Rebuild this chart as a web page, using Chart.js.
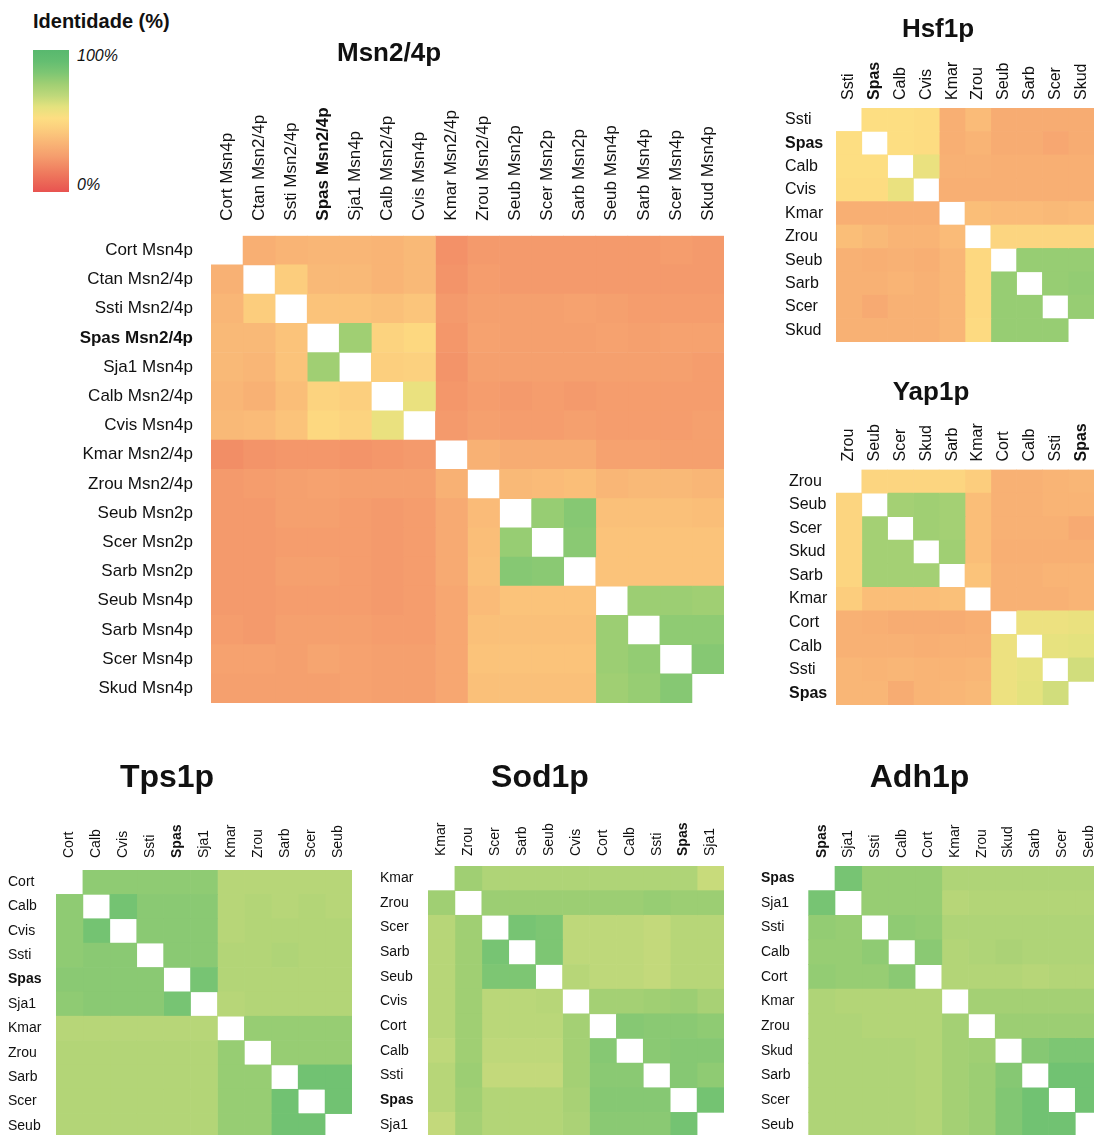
<!DOCTYPE html>
<html>
<head>
<meta charset="utf-8">
<title>Identidade (%)</title>
<script src="https://cdn.jsdelivr.net/npm/chart.js@4.4.1/dist/chart.umd.min.js"></script>
<style>
  body { margin: 0; width: 1094px; height: 1135px; overflow: hidden; position: relative; background: #fff;
         font-family: 'Liberation Sans', Arial, sans-serif; color: #111; }
  canvas { position: absolute; }
  .leg { position: absolute; white-space: nowrap; }
</style>
</head>
<body>
<div class="leg" style="left:33px; top:10px; font-size:20px; font-weight:bold;">Identidade (%)</div>
<div class="leg" id="legendBar" style="left:33px; top:50px; width:36px; height:142px;"></div>
<div class="leg" style="left:77px; top:47px; font-size:16px; font-style:italic;">100%</div>
<div class="leg" style="left:77px; top:176px; font-size:16px; font-style:italic;">0%</div>

<canvas id="msn" width="670" height="675" style="left:54px; top:28px;"></canvas>
<canvas id="hsf" width="312" height="334" style="left:782px; top:8px;"></canvas>
<canvas id="yap" width="326" height="334" style="left:768px; top:371px;"></canvas>
<canvas id="tps" width="370" height="385" style="left:-18px; top:753px;"></canvas>
<canvas id="sod" width="368" height="384" style="left:356px; top:753px;"></canvas>
<canvas id="adh" width="365" height="384" style="left:737px; top:753px;"></canvas>

<script>
// ---- data: % identity between proteins (null = diagonal, left blank) ----
const msnLabels = ['Cort Msn4p', 'Ctan Msn2/4p', 'Ssti Msn2/4p', 'Spas Msn2/4p', 'Sja1 Msn4p', 'Calb Msn2/4p',
  'Cvis Msn4p', 'Kmar Msn2/4p', 'Zrou Msn2/4p', 'Seub Msn2p', 'Scer Msn2p', 'Sarb Msn2p',
  'Seub Msn4p', 'Sarb Msn4p', 'Scer Msn4p', 'Skud Msn4p'];
const msnIdentity = [
  [null, 32, 34, 35, 35, 34, 36, 21, 24, 24, 24, 24, 24, 24, 25, 24],
  [33, null, 44, 36, 36, 34, 36, 22, 25, 24, 24, 24, 24, 24, 24, 24],
  [35, 44, null, 40, 40, 39, 41, 24, 26, 26, 26, 27, 26, 25, 25, 25],
  [36, 36, 40, null, 76, 47, 49, 23, 27, 26, 26, 26, 27, 26, 27, 27],
  [36, 35, 40, 76, null, 45, 46, 22, 26, 26, 26, 26, 26, 26, 26, 25],
  [35, 33, 38, 47, 45, null, 58, 23, 25, 24, 25, 24, 25, 25, 25, 25],
  [36, 37, 40, 49, 47, 58, null, 24, 26, 25, 25, 26, 25, 25, 25, 26],
  [20, 22, 23, 23, 22, 23, 24, null, 33, 31, 31, 31, 27, 27, 26, 26],
  [24, 25, 26, 27, 26, 26, 26, 33, null, 36, 37, 38, 35, 36, 36, 35],
  [24, 24, 26, 26, 25, 24, 25, 30, 37, null, 78, 82, 39, 39, 39, 38],
  [24, 24, 25, 25, 25, 24, 25, 30, 38, 78, null, 81, 40, 40, 40, 40],
  [24, 24, 26, 26, 25, 24, 25, 30, 39, 82, 81, null, 40, 40, 40, 40],
  [24, 24, 25, 25, 25, 24, 25, 29, 37, 40, 40, 40, null, 77, 77, 76],
  [25, 24, 26, 26, 26, 25, 25, 29, 39, 39, 39, 39, 77, null, 80, 80],
  [27, 27, 26, 28, 27, 26, 26, 29, 40, 40, 40, 40, 77, 79, null, 82],
  [26, 26, 26, 26, 27, 26, 26, 29, 39, 39, 39, 39, 76, 78, 82, null]
];

const hsfLabels = ['Ssti', 'Spas', 'Calb', 'Cvis', 'Kmar', 'Zrou', 'Seub', 'Sarb', 'Scer', 'Skud'];
const hsfIdentity = [
  [null, 52, 52, 51, 32, 37, 31, 31, 31, 31],
  [52, null, 52, 51, 32, 34, 31, 31, 29, 31],
  [52, 52, null, 58, 33, 33, 32, 32, 32, 32],
  [51, 51, 58, null, 32, 32, 32, 32, 32, 32],
  [32, 32, 32, 32, null, 38, 37, 37, 36, 37],
  [38, 36, 34, 34, 37, null, 48, 48, 48, 48],
  [33, 32, 33, 32, 35, 49, null, 78, 78, 78],
  [33, 33, 34, 33, 35, 49, 78, null, 78, 79],
  [33, 30, 33, 33, 35, 49, 78, 78, null, 78],
  [33, 33, 33, 33, 35, 50, 78, 78, 78, null]
];

const yapLabels = ['Zrou', 'Seub', 'Scer', 'Skud', 'Sarb', 'Kmar', 'Cort', 'Calb', 'Ssti', 'Spas'];
const yapIdentity = [
  [null, 48, 48, 48, 48, 44, 33, 33, 34, 35],
  [48, null, 75, 76, 75, 38, 33, 33, 34, 34],
  [48, 75, null, 76, 75, 38, 33, 33, 33, 30],
  [48, 75, 75, null, 76, 38, 32, 32, 32, 32],
  [48, 75, 75, 75, null, 40, 33, 33, 34, 34],
  [44, 38, 38, 38, 39, null, 33, 33, 33, 34],
  [33, 32, 31, 31, 31, 32, null, 57, 57, 58],
  [33, 33, 33, 32, 33, 33, 57, null, 59, 60],
  [35, 34, 35, 34, 34, 35, 57, 59, null, 64],
  [35, 35, 31, 34, 35, 36, 57, 60, 64, null]
];

const tpsLabels = ['Cort', 'Calb', 'Cvis', 'Ssti', 'Spas', 'Sja1', 'Kmar', 'Zrou', 'Sarb', 'Scer', 'Seub'];
const tpsIdentity = [
  [null, 80, 80, 80, 80, 80, 70, 70, 70, 70, 70],
  [80, null, 87, 81, 81, 81, 70, 71, 70, 71, 70],
  [80, 87, null, 81, 81, 81, 70, 71, 71, 71, 71],
  [80, 81, 81, null, 81, 81, 71, 71, 72, 71, 71],
  [81, 81, 81, 81, null, 86, 71, 71, 71, 71, 71],
  [80, 81, 81, 81, 86, null, 70, 71, 71, 71, 71],
  [70, 70, 70, 70, 70, 70, null, 78, 78, 78, 78],
  [71, 71, 71, 71, 71, 71, 78, null, 78, 78, 78],
  [71, 71, 71, 71, 71, 71, 78, 78, null, 88, 88],
  [71, 71, 71, 71, 71, 71, 78, 78, 88, null, 88],
  [71, 71, 71, 71, 71, 71, 78, 78, 88, 88, null]
];

const sodLabels = ['Kmar', 'Zrou', 'Scer', 'Sarb', 'Seub', 'Cvis', 'Cort', 'Calb', 'Ssti', 'Spas', 'Sja1'];
const sodIdentity = [
  [null, 76, 72, 72, 72, 72, 72, 72, 72, 72, 66],
  [76, null, 77, 77, 77, 77, 77, 77, 78, 77, 77],
  [70, 76, null, 86, 84, 68, 68, 68, 67, 70, 70],
  [70, 76, 86, null, 84, 68, 68, 68, 67, 70, 70],
  [70, 76, 84, 84, null, 70, 68, 68, 67, 70, 70],
  [70, 76, 69, 69, 70, null, 75, 75, 76, 77, 74],
  [70, 76, 69, 69, 69, 75, null, 82, 81, 81, 80],
  [68, 76, 68, 68, 68, 75, 82, null, 81, 82, 82],
  [70, 77, 67, 67, 67, 75, 81, 81, null, 82, 80],
  [70, 76, 71, 71, 71, 74, 82, 82, 82, null, 87],
  [67, 75, 71, 71, 71, 73, 81, 81, 81, 87, null]
];

const adhLabels = ['Spas', 'Sja1', 'Ssti', 'Calb', 'Cort', 'Kmar', 'Zrou', 'Skud', 'Sarb', 'Scer', 'Seub'];
const adhIdentity = [
  [null, 86, 78, 78, 78, 72, 72, 72, 72, 72, 72],
  [86, null, 78, 78, 78, 70, 71, 71, 71, 71, 71],
  [79, 78, null, 80, 79, 72, 72, 72, 72, 72, 72],
  [78, 78, 80, null, 81, 71, 72, 73, 72, 72, 72],
  [79, 78, 78, 81, null, 71, 71, 71, 70, 71, 71],
  [72, 71, 71, 71, 71, null, 75, 75, 75, 75, 75],
  [72, 72, 71, 71, 71, 75, null, 77, 77, 77, 77],
  [72, 72, 72, 72, 71, 75, 76, null, 82, 84, 84],
  [72, 72, 72, 72, 71, 75, 77, 82, null, 88, 88],
  [72, 72, 72, 72, 71, 75, 77, 83, 88, null, 88],
  [72, 72, 72, 72, 71, 75, 77, 83, 88, 88, null]
];

const boldLabels = ['Spas', 'Spas Msn2/4p'];

// ---- colour scale (0% red -> 50% yellow -> 100% green) ----
const colorStops = [
  [0, [232, 83, 80]], [12, [238, 118, 92]], [25, [245, 157, 109]], [35, [249, 182, 118]],
  [45, [252, 207, 126]], [52, [253, 222, 130]], [60, [228, 226, 126]], [68, [190, 216, 122]],
  [76, [160, 207, 115]], [84, [125, 198, 115]], [92, [100, 190, 113]], [100, [88, 184, 110]]
];

function cellColor(v) {
  if (v === null || v === undefined) return 'rgba(255,255,255,0)';
  for (let k = 1; k < colorStops.length; k++) {
    const [v1, c1] = colorStops[k];
    if (v <= v1) {
      const [v0, c0] = colorStops[k - 1];
      const t = (v - v0) / (v1 - v0);
      const c = c0.map((a, i) => Math.round(a + (c1[i] - a) * t));
      return `rgb(${c.join(',')})`;
    }
  }
  return `rgb(${colorStops[colorStops.length - 1][1].join(',')})`;
}

document.getElementById('legendBar').style.background = 'linear-gradient(to top, ' +
  colorStops.map(([v, c]) => `rgb(${c.join(',')}) ${v}%`).join(', ') + ')';

const FONT = "'Liberation Sans', Arial, sans-serif";

const panels = [
  { id: 'msn', title: 'Msn2/4p', labels: msnLabels, values: msnIdentity, titleSize: 26, titlePad: 10,
    colAxis: 166.5, rowAxis: 157, spacer: 0, fontSize: 17, align: 'near', rowGap: 18, colGap: 15 },
  { id: 'hsf', title: 'Hsf1p', labels: hsfLabels, values: hsfIdentity, titleSize: 26, titlePad: 6,
    colAxis: 62.8, rowAxis: 51, spacer: 3, fontSize: 16, align: 'far', rowGap: 0, colGap: 8 },
  { id: 'yap', title: 'Yap1p', labels: yapLabels, values: yapIdentity, titleSize: 26, titlePad: 6,
    colAxis: 61.3, rowAxis: 47, spacer: 21, fontSize: 16, align: 'far', rowGap: 0, colGap: 8 },
  { id: 'tps', title: 'Tps1p', labels: tpsLabels, values: tpsIdentity, titleSize: 32, titlePad: 6,
    colAxis: 72.6, rowAxis: 48, spacer: 26, fontSize: 14, align: 'far', rowGap: 0, colGap: 12 },
  { id: 'sod', title: 'Sod1p', labels: sodLabels, values: sodIdentity, titleSize: 32, titlePad: 6,
    colAxis: 68.6, rowAxis: 48, spacer: 24, fontSize: 14, align: 'far', rowGap: 0, colGap: 10 },
  { id: 'adh', title: 'Adh1p', labels: adhLabels, values: adhIdentity, titleSize: 32, titlePad: 6,
    colAxis: 68.6, rowAxis: 47.3, spacer: 24, fontSize: 14, align: 'far', rowGap: 0, colGap: 8 }
];

function labelFont(p, label) {
  return { family: FONT, size: p.fontSize, weight: boldLabels.includes(label) ? 'bold' : 'normal' };
}

function drawHeatmap(p) {
  const n = p.labels.length;
  // one stacked dataset per column; each row gets a cell of width 1 coloured by its identity
  const datasets = p.labels.map((col, j) => ({
    label: col,
    data: p.labels.map((row, i) => ({ x: 1, y: row, identity: p.values[i][j] })),
    backgroundColor: ctx => cellColor(ctx.raw ? ctx.raw.identity : null),
    borderWidth: 0,
    barPercentage: 1,
    categoryPercentage: 1,
    xAxisID: 'x',
    yAxisID: 'y'
  }));

  new Chart(document.getElementById(p.id), {
    type: 'bar',
    data: { labels: p.labels, datasets },
    options: {
      indexAxis: 'y',
      responsive: false,
      animation: false,
      events: [],
      layout: { padding: 0 },
      plugins: {
        legend: { display: false },
        tooltip: { enabled: false },
        title: {
          display: true,
          text: p.title,
          color: '#111',
          font: { family: FONT, size: p.titleSize, weight: 'bold' },
          padding: { top: p.titlePad, bottom: 0 }
        }
      },
      scales: {
        x: {
          type: 'linear',
          position: 'top',
          stacked: true,
          min: 0,
          max: n,
          grid: { display: false, drawTicks: false },
          border: { display: false },
          afterBuildTicks: axis => { axis.ticks = p.labels.map((_, i) => ({ value: i + 0.5 })); },
          afterFit: axis => { axis.height = p.colAxis; axis.paddingLeft = 0; axis.paddingRight = 0; },
          ticks: {
            autoSkip: false,
            minRotation: 90,
            maxRotation: 90,
            padding: p.colGap,
            // rotated labels sit one line-height left of the tick; move them back over the cell
            labelOffset: p.fontSize * 1.2,
            color: '#111',
            callback: (v, i) => p.labels[i],
            font: ctx => labelFont(p, p.labels[ctx.index])
          }
        },
        y: {
          type: 'category',
          position: 'left',
          stacked: true,
          offset: true,
          weight: 0,
          grid: { display: false, drawTicks: false },
          border: { display: false },
          afterFit: axis => { axis.width = p.rowAxis; axis.paddingTop = 0; axis.paddingBottom = 0; },
          ticks: {
            autoSkip: false,
            crossAlign: p.align,
            padding: p.rowGap,
            color: '#111',
            font: ctx => labelFont(p, p.labels[ctx.index])
          }
        },
        spacer: {
          type: 'linear',
          axis: 'y',
          position: 'left',
          weight: 10,
          display: p.spacer > 0,
          grid: { display: false, drawTicks: false },
          border: { display: false },
          ticks: { display: false },
          afterFit: axis => { axis.width = p.spacer; axis.paddingTop = 0; axis.paddingBottom = 0; }
        }
      }
    }
  });
}

panels.forEach(drawHeatmap);
</script>
</body>
</html>
